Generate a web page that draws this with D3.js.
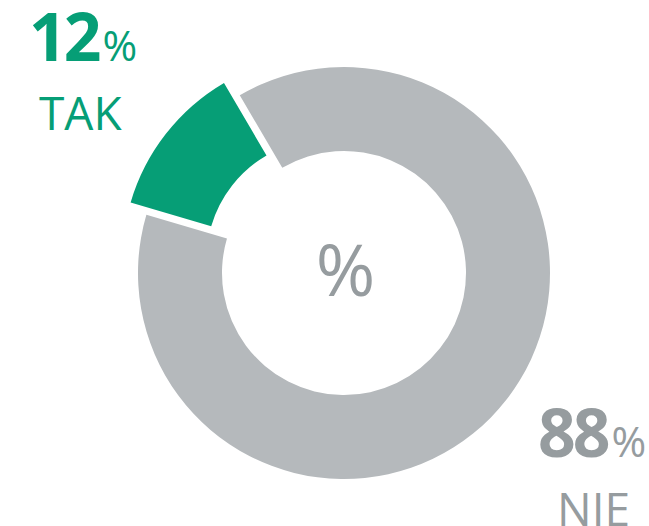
<!DOCTYPE html>
<html>
<head>
<meta charset="utf-8">
<script src="https://cdn.jsdelivr.net/npm/d3@7"></script>
<style>
  body { margin: 0; background: #fff; }
  text { font-family: "Open Sans", sans-serif; }
</style>
</head>
<body>
<div id="chart"></div>
<script>
var width = 649,
    height = 526;

// data
var labels = ["TAK", "NIE"];
var values = [12, 88];
var colors = ["#069e76", "#b5b9bc"];
var textColors = ["#069e76", "#969c9f"];

var cx = 344, cy = 273,
    outerR = 206, innerR = 122,
    explode = 20;

var svg = d3.select("#chart").append("svg")
  .attr("width", width)
  .attr("height", height);

var start = -73.6 / 180 * Math.PI;
var pie = d3.pie()
  .sort(null)
  .value(function(d) { return d; })
  .startAngle(start)
  .endAngle(start + 2 * Math.PI);

var arc = d3.arc().innerRadius(innerR).outerRadius(outerR);

var g = svg.append("g").attr("transform", "translate(" + cx + "," + cy + ")");

g.selectAll("path")
  .data(pie(values))
  .enter()
  .append("path")
    .attr("d", arc)
    .attr("fill", function(d, i) { return colors[i]; })
    .attr("transform", function(d, i) {
      if (i != 0) return null;
      var a = (d.startAngle + d.endAngle) / 2;
      return "translate(" + (Math.sin(a) * explode) + "," + (-Math.cos(a) * explode) + ")";
    });

// centre sign
svg.append("text")
  .attr("x", 345.5).attr("y", 296)
  .attr("text-anchor", "middle")
  .attr("font-size", 72)
  .attr("fill", "#969c9f")
  .text("%");

// labels
function label(i, x, y) {
  var t = svg.append("text")
    .attr("x", x).attr("y", y)
    .attr("fill", textColors[i]);
  t.append("tspan")
    .attr("font-size", 66)
    .attr("font-weight", "bold")
    .attr("letter-spacing", -3)
    .text(values[i]);
  t.append("tspan")
    .attr("font-size", 42)
    .attr("dx", 4)
    .text("%");
  svg.append("text")
    .attr("x", x + 10).attr("y", y + 69)
    .attr("font-size", 46)
    .attr("fill", textColors[i])
    .text(labels[i]);
}

label(0, 29, 61);
label(1, 538, 457);
svg.selectAll("text").filter(function() { return d3.select(this).text() == "NIE"; })
  .attr("x", 557);
</script>
</body>
</html>
